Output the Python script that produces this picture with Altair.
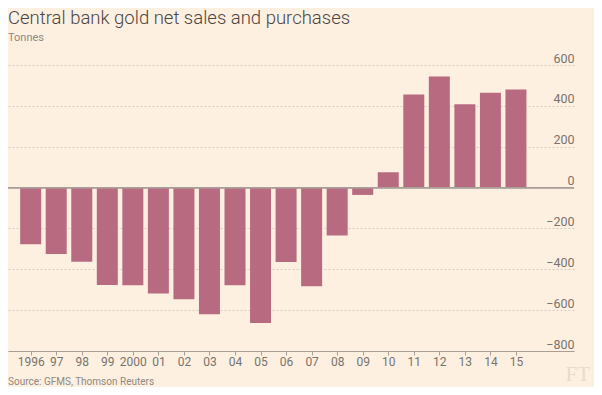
import altair as alt
import pandas as pd

years = list(range(1996, 2016))
tonnes = [-277, -325, -363, -477, -478, -519, -547, -620, -478, -663,
          -364, -483, -235, -36, 75, 456, 544, 408, 464, 480]
y_ticks = [-800, -600, -400, -200, 0, 200, 400, 600]

title_text = "Central bank gold net sales and purchases"
subtitle_text = "Tonnes"
source_text = "Source: GFMS, Thomson Reuters"
logo_text = "FT"

BG = "#fdf0e1"
BAR = "#b86b80"
GREY = "#79736d"
LINE = "#a8a097"

df = pd.DataFrame({"year": years, "tonnes": tonnes})

x_scale = alt.Scale(domain=[1995.3077, 2017.077], nice=False, zero=False)
y_scale = alt.Scale(domain=[-800, 600], nice=False)

bars = alt.Chart(df).mark_bar(size=21, color=BAR).encode(
    x=alt.X("year:Q", scale=x_scale,
            axis=alt.Axis(values=years, title=None, grid=False,
                          labelExpr="datum.value == 1996 || datum.value == 2000 ? '' + datum.value : substring('' + datum.value, 2)",
                          tickSize=4, tickColor=LINE, domainColor=LINE,
                          labelColor=GREY, labelFont="Roboto", labelFontSize=12,
                          labelPadding=1, labelFlush=False)),
    y=alt.Y("tonnes:Q", scale=y_scale,
            axis=alt.Axis(orient="right", values=y_ticks, title=None,
                          ticks=False, tickSize=0, domain=False,
                          labelAlign="right", labelBaseline="alphabetic",
                          labelOffset=-3, labelPadding=0,
                          labelColor=GREY, labelFont="Roboto", labelFontSize=12.5,
                          grid=True, gridColor="#d8cbbd", gridDash=[2, 2],
                          labelFlush=False)),
    y2=alt.datum(0),
)

zero = alt.Chart(df).mark_rule(color=LINE, strokeWidth=1).encode(
    y=alt.datum(0, scale=y_scale)
)

source = alt.Chart(pd.DataFrame({"t": [source_text]})).mark_text(
    align="left", baseline="alphabetic", font="Roboto", fontSize=10, color="#8e8880"
).encode(text="t:N", x=alt.value(0), y=alt.value(320))

logo = alt.Chart(pd.DataFrame({"t": [logo_text]})).mark_text(
    align="right", baseline="alphabetic", font="Liberation Serif", fontSize=21,
    color="#e8dccd"
).encode(text="t:N", x=alt.value(582), y=alt.value(316))

chart = alt.layer(bars, zero, source, logo).properties(
    width=566, height=286,
    autosize=alt.AutoSizeParams(type="none"),
    padding={"left": 0, "top": 57, "right": 20, "bottom": 36},
    background=BG,
    title=alt.TitleParams(
        text=title_text, subtitle=subtitle_text, anchor="start", frame="group",
        font="Roboto", fontSize=18.5, fontWeight=300, color="#4a4542",
        subtitleFont="Roboto", subtitleFontSize=11, subtitleColor="#8e8880",
        subtitlePadding=4, offset=9.5, dx=0,
    ),
).configure_view(stroke=None)

chart.save("out.html", embed_options={"renderer": "svg", "actions": False})
